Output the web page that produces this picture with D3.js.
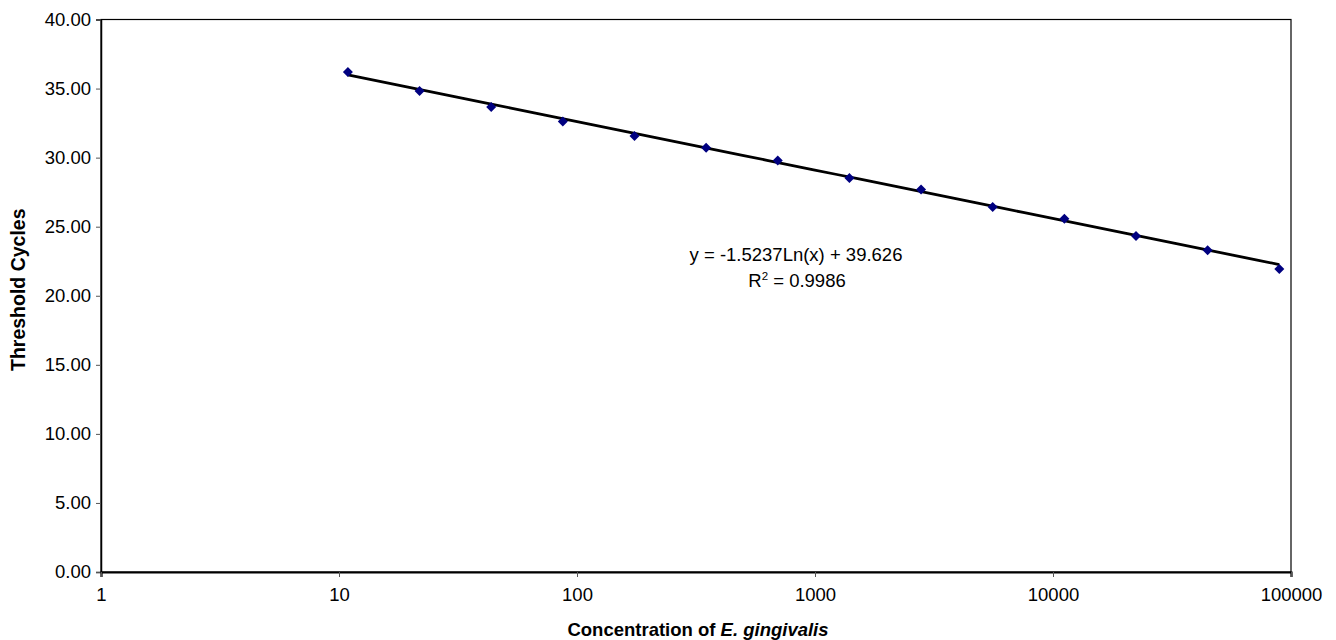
<!DOCTYPE html>
<html>
<head>
<meta charset="utf-8">
<script src="https://cdn.jsdelivr.net/npm/d3@7"></script>
<style>
  body { margin: 0; background: #fff; }
  text { font-family: "Liberation Sans", Arial, sans-serif; fill: #000; }
</style>
</head>
<body>
<svg id="drawing_region"></svg>
<script>
// concentration (x) and threshold cycles (y)
const concentrations = [10.9, 21.8, 43.6, 87.2, 174.4, 348.8, 697.6, 1395, 2790, 5581, 11162, 22323, 44646, 89293];
const cycles = [36.19, 34.82, 33.66, 32.62, 31.56, 30.72, 29.80, 28.52, 27.70, 26.42, 25.58, 24.33, 23.29, 21.94];
const xTicks = [1, 10, 100, 1000, 10000, 100000];
const yTicks = [0, 5, 10, 15, 20, 25, 30, 35, 40];
// logarithmic trendline y = a*ln(x) + b
const trendA = -1.5237;
const trendB = 39.626;
const rSquared = "0.9986";

const config = {
    width: 1336,
    height: 640,
    margin: {top: 19.5, right: 45, bottom: 68, left: 101}
};

const data = concentrations.map((c, i) => ({x: c, y: cycles[i]}));

const svg = d3.select('#drawing_region')
    .attr('width', config.width)
    .attr('height', config.height);

const m = config.margin;
const innerW = config.width - m.left - m.right;
const innerH = config.height - m.top - m.bottom;

const chart = svg.append('g')
    .attr('transform', `translate(${m.left}, ${m.top})`);

const xScale = d3.scaleLog()
    .domain([1, 100000])
    .range([0, innerW]);

const yScale = d3.scaleLinear()
    .domain([0, 40])
    .range([innerH, 0]);

// plot border (top / right)
chart.append('rect')
    .attr('x', 0).attr('y', 0)
    .attr('width', innerW).attr('height', innerH)
    .attr('fill', 'none')
    .attr('stroke', '#000')
    .attr('stroke-width', 1.2);

// y axis
const yAxis = d3.axisLeft(yScale)
    .tickValues(yTicks)
    .tickSize(5)
    .tickPadding(5)
    .tickFormat(d3.format('.2f'));

const yg = chart.append('g').call(yAxis);
yg.select('.domain').attr('stroke', '#000').attr('stroke-width', 1.5);
yg.selectAll('.tick line').attr('stroke', '#555');
yg.selectAll('.tick text')
    .attr('font-size', '18.5px')
    .attr('font-family', '"Liberation Sans", Arial, sans-serif');

// x axis
const xAxis = d3.axisBottom(xScale)
    .tickValues(xTicks)
    .tickSize(5)
    .tickPadding(11)
    .tickFormat(d3.format('d'));

const xg = chart.append('g')
    .attr('transform', `translate(0, ${innerH})`)
    .call(xAxis);
xg.select('.domain').attr('stroke', '#000').attr('stroke-width', 2.2);
xg.selectAll('.tick line').attr('stroke', '#555');
xg.selectAll('.tick text')
    .attr('font-size', '18.5px')
    .attr('font-family', '"Liberation Sans", Arial, sans-serif');

// trendline
const xs = d3.extent(concentrations);
const trendPts = d3.range(0, 41).map(i => {
    const lx = Math.log10(xs[0]) + (Math.log10(xs[1]) - Math.log10(xs[0])) * i / 40;
    const x = Math.pow(10, lx);
    return {x: x, y: trendA * Math.log(x) + trendB};
});

const line = d3.line()
    .x(d => xScale(d.x))
    .y(d => yScale(d.y));

chart.append('path')
    .datum(trendPts)
    .attr('d', line)
    .attr('fill', 'none')
    .attr('stroke', '#000')
    .attr('stroke-width', 2.8);

// markers
const diamond = d3.symbol().type(d3.symbolSquare).size(50);
chart.selectAll('.pt')
    .data(data)
    .enter()
    .append('path')
    .attr('class', 'pt')
    .attr('d', diamond)
    .attr('transform', d => `translate(${xScale(d.x)}, ${yScale(d.y)}) rotate(45)`)
    .attr('fill', '#000080');

// equation label
svg.append('text')
    .attr('x', 796)
    .attr('y', 261)
    .attr('text-anchor', 'middle')
    .attr('font-size', '18.5px')
    .text(`y = ${trendA}Ln(x) + ${trendB}`);

const r2 = svg.append('text')
    .attr('x', 797)
    .attr('y', 287)
    .attr('text-anchor', 'middle')
    .attr('font-size', '18.5px');
r2.append('tspan').text('R');
r2.append('tspan').attr('dy', -7).attr('font-size', '11.5px').text('2');
r2.append('tspan').attr('dy', 7).text(` = ${rSquared}`);

// axis titles
const xt = svg.append('text')
    .attr('x', 698)
    .attr('y', 636)
    .attr('text-anchor', 'middle')
    .attr('font-size', '18.5px')
    .attr('font-weight', 'bold');
xt.append('tspan').text('Concentration of ');
xt.append('tspan').attr('font-style', 'italic').text('E. gingivalis');

svg.append('text')
    .attr('transform', `translate(25, ${m.top + innerH / 2 - 6}) rotate(-90)`)
    .attr('text-anchor', 'middle')
    .attr('font-size', '19.5px')
    .attr('font-weight', 'bold')
    .text('Threshold Cycles');
</script>
</body>
</html>
